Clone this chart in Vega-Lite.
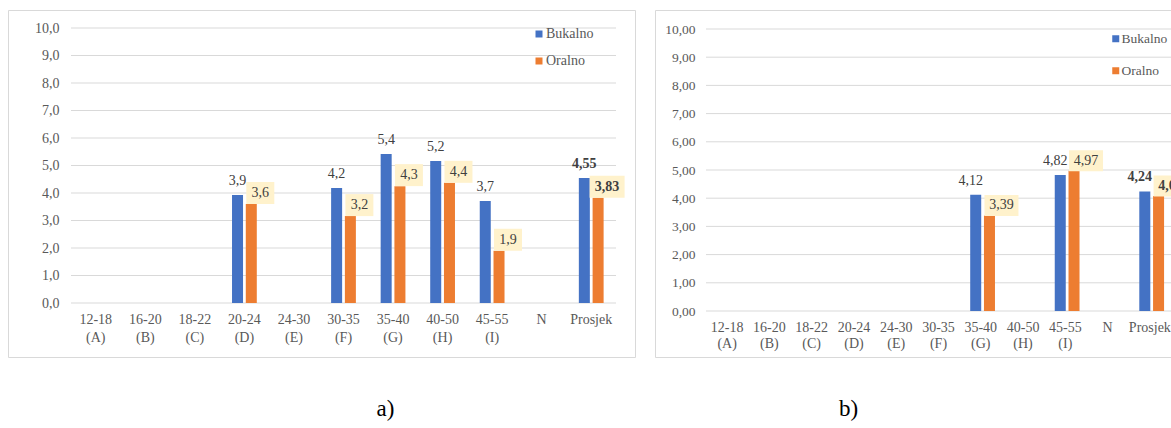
{
  "$schema": "https://vega.github.io/schema/vega-lite/v6.json",
  "background": "white",
  "padding": {"left": 7, "top": 9, "right": 0, "bottom": 0},
  "spacing": 18,
  "config": {
    "view": {"stroke": "#D9D9D9", "strokeWidth": 1},
    "font": "Liberation Serif"
  },
  "datasets": {
    "grid": [{"g": 0}, {"g": 1}, {"g": 2}, {"g": 3}, {"g": 4}, {"g": 5}, {"g": 6}, {"g": 7}, {"g": 8}, {"g": 9}, {"g": 10}],
    "a": [
      {"cat": "20-24 (D)", "series": "Bukalno", "value": 3.93, "label": "3,9"},
      {"cat": "20-24 (D)", "series": "Oralno", "value": 3.6, "label": "3,6"},
      {"cat": "30-35 (F)", "series": "Bukalno", "value": 4.18, "label": "4,2"},
      {"cat": "30-35 (F)", "series": "Oralno", "value": 3.16, "label": "3,2"},
      {"cat": "35-40 (G)", "series": "Bukalno", "value": 5.42, "label": "5,4"},
      {"cat": "35-40 (G)", "series": "Oralno", "value": 4.25, "label": "4,3"},
      {"cat": "40-50 (H)", "series": "Bukalno", "value": 5.16, "label": "5,2"},
      {"cat": "40-50 (H)", "series": "Oralno", "value": 4.37, "label": "4,4"},
      {"cat": "45-55 (I)", "series": "Bukalno", "value": 3.71, "label": "3,7"},
      {"cat": "45-55 (I)", "series": "Oralno", "value": 1.9, "label": "1,9"},
      {"cat": "Prosjek", "series": "Bukalno", "value": 4.55, "label": "4,55"},
      {"cat": "Prosjek", "series": "Oralno", "value": 3.83, "label": "3,83"}
    ],
    "b": [
      {"cat": "35-40 (G)", "series": "Bukalno", "value": 4.12, "label": "4,12"},
      {"cat": "35-40 (G)", "series": "Oralno", "value": 3.39, "label": "3,39"},
      {"cat": "45-55 (I)", "series": "Bukalno", "value": 4.82, "label": "4,82"},
      {"cat": "45-55 (I)", "series": "Oralno", "value": 4.97, "label": "4,97"},
      {"cat": "Prosjek", "series": "Bukalno", "value": 4.24, "label": "4,24"},
      {"cat": "Prosjek", "series": "Oralno", "value": 4.08, "label": "4,08"}
    ]
  },
  "resolve": {"legend": {"color": "independent"}},
  "hconcat": [
    {
      "width": 627,
      "height": 347,
      "title": {"text": "a)", "orient": "bottom", "anchor": "middle", "frame": "group", "dx": 64, "offset": 41, "baseline": "top", "fontSize": 23, "font": "Liberation Serif", "fontWeight": "normal", "color": "#000000"},
      "resolve": {"scale": {"x": "independent"}},
      "layer": [
        {
          "data": {"name": "grid"},
          "mark": {"type": "rule", "color": "#D9D9D9", "strokeWidth": 1},
          "encoding": {
            "x": {"datum": 0, "type": "quantitative", "scale": {"domain": [0, 11], "range": [63, 608], "nice": false, "zero": false}, "axis": null},
            "x2": {"datum": 11},
            "y": {"field": "g", "type": "quantitative",
              "scale": {"domain": [0, 10], "range": [293, 18], "nice": false, "zero": true},
              "axis": {"title": null, "values": [0, 1, 2, 3, 4, 5, 6, 7, 8, 9, 10], "grid": false, "domain": false, "ticks": false, "tickSize": 0, "labelPadding": 0, "offset": -51, "labelFlush": false, "labelOverlap": false,
                "labelExpr": "replace(format(datum.value, '.1f'), '.', ',')", "labelFont": "Liberation Serif", "labelFontSize": 14, "labelColor": "#595959"}}
          }
        },
        {
          "data": {"name": "a"},
          "layer": [
            {
              "mark": {"type": "bar"},
              "encoding": {
                "x": {"field": "cat", "type": "nominal", "sort": null,
                  "scale": {"domain": ["12-18 (A)", "16-20 (B)", "18-22 (C)", "20-24 (D)", "24-30 (E)", "30-35 (F)", "35-40 (G)", "40-50 (H)", "45-55 (I)", "N", "Prosjek"], "range": [63, 608], "paddingInner": 0.5, "paddingOuter": 0.25},
                  "axis": {"title": null, "labelAngle": 0, "domain": false, "ticks": false, "tickSize": 0, "grid": false, "labelPadding": 0, "offset": -45,
                    "labelExpr": "split(datum.label, ' ')", "labelLineHeight": 18, "labelFont": "Liberation Serif", "labelFontSize": 14, "labelColor": "#595959"}},
                "xOffset": {"field": "series", "type": "nominal", "scale": {"domain": ["Bukalno", "Oralno"], "paddingInner": 0.2}},
                "y": {"field": "value", "type": "quantitative", "scale": {"domain": [0, 10], "range": [293, 18], "nice": false, "zero": true},
                  "axis": {"title": null, "values": [0, 1, 2, 3, 4, 5, 6, 7, 8, 9, 10], "grid": false, "domain": false, "ticks": false, "tickSize": 0, "labelPadding": 0, "offset": -51, "labelFlush": false, "labelOverlap": false,
                    "labelExpr": "replace(format(datum.value, '.1f'), '.', ',')", "labelFont": "Liberation Serif", "labelFontSize": 14, "labelColor": "#595959"}},
                "color": {"field": "series", "type": "nominal", "scale": {"domain": ["Bukalno", "Oralno"], "range": ["#4472C4", "#ED7D31"]},
                  "legend": {"orient": "none", "legendX": 524, "legendY": 17, "title": null, "direction": "vertical", "symbolType": "square", "symbolSize": 49, "symbolStrokeWidth": 0, "labelFont": "Liberation Serif", "labelFontSize": 14, "labelColor": "#595959", "rowPadding": 13, "labelOffset": 0, "padding": 0}}
              }
            },
            {
              "transform": [{"filter": "datum.series == 'Oralno'"}],
              "mark": {"type": "point", "filled": true, "color": "#FFF2CC", "opacity": 1, "size": 400,
                "shape": {"expr": "length(datum.label) > 3 ? 'M-0.85,-2.2H2.65V0H-0.85Z' : 'M-0.5,-2.2H2.3V0H-0.5Z'"}},
              "encoding": {
                "x": {"field": "cat", "type": "nominal",
                  "axis": {"title": null, "labelAngle": 0, "domain": false, "ticks": false, "tickSize": 0, "grid": false, "labelPadding": 0, "offset": -45,
                    "labelExpr": "split(datum.label, ' ')", "labelLineHeight": 18, "labelFont": "Liberation Serif", "labelFontSize": 14, "labelColor": "#595959"}},
                "xOffset": {"field": "series", "type": "nominal"},
                "y": {"field": "value", "type": "quantitative",
                  "axis": {"title": null, "values": [0, 1, 2, 3, 4, 5, 6, 7, 8, 9, 10], "grid": false, "domain": false, "ticks": false, "tickSize": 0, "labelPadding": 0, "offset": -51, "labelFlush": false, "labelOverlap": false,
                    "labelExpr": "replace(format(datum.value, '.1f'), '.', ',')", "labelFont": "Liberation Serif", "labelFontSize": 14, "labelColor": "#595959"}}
              }
            },
            {
              "mark": {"type": "text", "font": "Liberation Serif", "fontSize": 14, "color": "#404040", "align": "center", "baseline": "middle",
                "dx": {"expr": "datum.series == 'Oralno' ? 9 : 0"},
                "dy": {"expr": "datum.series == 'Oralno' ? -11 : -14"},
                "fontWeight": {"expr": "datum.cat == 'Prosjek' ? 'bold' : 'normal'"}},
              "encoding": {
                "x": {"field": "cat", "type": "nominal",
                  "axis": {"title": null, "labelAngle": 0, "domain": false, "ticks": false, "tickSize": 0, "grid": false, "labelPadding": 0, "offset": -45,
                    "labelExpr": "split(datum.label, ' ')", "labelLineHeight": 18, "labelFont": "Liberation Serif", "labelFontSize": 14, "labelColor": "#595959"}},
                "xOffset": {"field": "series", "type": "nominal"},
                "y": {"field": "value", "type": "quantitative",
                  "axis": {"title": null, "values": [0, 1, 2, 3, 4, 5, 6, 7, 8, 9, 10], "grid": false, "domain": false, "ticks": false, "tickSize": 0, "labelPadding": 0, "offset": -51, "labelFlush": false, "labelOverlap": false,
                    "labelExpr": "replace(format(datum.value, '.1f'), '.', ',')", "labelFont": "Liberation Serif", "labelFontSize": 14, "labelColor": "#595959"}},
                "text": {"field": "label"}
              }
            }
          ]
        }
      ]
    },
    {
      "width": 519,
      "height": 347,
      "title": {"text": "b)", "orient": "bottom", "anchor": "middle", "frame": "group", "dx": -66, "offset": 41, "baseline": "top", "fontSize": 23, "font": "Liberation Serif", "fontWeight": "normal", "color": "#000000"},
      "resolve": {"scale": {"x": "independent"}},
      "layer": [
        {
          "data": {"name": "grid"},
          "mark": {"type": "rule", "color": "#D9D9D9", "strokeWidth": 1},
          "encoding": {
            "x": {"datum": 0, "type": "quantitative", "scale": {"domain": [0, 11], "range": [51, 516], "nice": false, "zero": false}, "axis": null},
            "x2": {"datum": 11},
            "y": {"field": "g", "type": "quantitative",
              "scale": {"domain": [0, 10], "range": [301, 19], "nice": false, "zero": true},
              "axis": {"title": null, "values": [0, 1, 2, 3, 4, 5, 6, 7, 8, 9, 10], "grid": false, "domain": false, "ticks": false, "tickSize": 0, "labelPadding": 0, "offset": -40, "labelFlush": false, "labelOverlap": false,
                "labelExpr": "replace(format(datum.value, '.2f'), '.', ',')", "labelFont": "Liberation Serif", "labelFontSize": 13.5, "labelColor": "#595959"}}
          }
        },
        {
          "data": {"name": "b"},
          "layer": [
            {
              "mark": {"type": "bar"},
              "encoding": {
                "x": {"field": "cat", "type": "nominal", "sort": null,
                  "scale": {"domain": ["12-18 (A)", "16-20 (B)", "18-22 (C)", "20-24 (D)", "24-30 (E)", "30-35 (F)", "35-40 (G)", "40-50 (H)", "45-55 (I)", "N", "Prosjek"], "range": [51, 516], "paddingInner": 0.5, "paddingOuter": 0.25},
                  "axis": {"title": null, "labelAngle": 0, "domain": false, "ticks": false, "tickSize": 0, "grid": false, "labelPadding": 0, "offset": -37,
                    "labelExpr": "split(datum.label, ' ')", "labelLineHeight": 16, "labelFont": "Liberation Serif", "labelFontSize": 14, "labelColor": "#595959"}},
                "xOffset": {"field": "series", "type": "nominal", "scale": {"domain": ["Bukalno", "Oralno"], "paddingInner": 0.2}},
                "y": {"field": "value", "type": "quantitative", "scale": {"domain": [0, 10], "range": [301, 19], "nice": false, "zero": true},
                  "axis": {"title": null, "values": [0, 1, 2, 3, 4, 5, 6, 7, 8, 9, 10], "grid": false, "domain": false, "ticks": false, "tickSize": 0, "labelPadding": 0, "offset": -40, "labelFlush": false, "labelOverlap": false,
                    "labelExpr": "replace(format(datum.value, '.2f'), '.', ',')", "labelFont": "Liberation Serif", "labelFontSize": 13.5, "labelColor": "#595959"}},
                "color": {"field": "series", "type": "nominal", "scale": {"domain": ["Bukalno", "Oralno"], "range": ["#4472C4", "#ED7D31"]},
                  "legend": {"orient": "none", "legendX": 454, "legendY": 22, "title": null, "direction": "vertical", "symbolType": "square", "symbolSize": 49, "symbolStrokeWidth": 0, "labelFont": "Liberation Serif", "labelFontSize": 13.5, "labelColor": "#595959", "rowPadding": 17, "labelOffset": -1, "padding": 0}}
              }
            },
            {
              "transform": [{"filter": "datum.series == 'Oralno'"}],
              "mark": {"type": "point", "filled": true, "color": "#FFF2CC", "opacity": 1, "size": 400, "clip": true,
                "shape": "M-0.5,-2.05H2.9V0.05H-0.5Z"},
              "encoding": {
                "x": {"field": "cat", "type": "nominal",
                  "axis": {"title": null, "labelAngle": 0, "domain": false, "ticks": false, "tickSize": 0, "grid": false, "labelPadding": 0, "offset": -37,
                    "labelExpr": "split(datum.label, ' ')", "labelLineHeight": 16, "labelFont": "Liberation Serif", "labelFontSize": 14, "labelColor": "#595959"}},
                "xOffset": {"field": "series", "type": "nominal"},
                "y": {"field": "value", "type": "quantitative",
                  "axis": {"title": null, "values": [0, 1, 2, 3, 4, 5, 6, 7, 8, 9, 10], "grid": false, "domain": false, "ticks": false, "tickSize": 0, "labelPadding": 0, "offset": -40, "labelFlush": false, "labelOverlap": false,
                    "labelExpr": "replace(format(datum.value, '.2f'), '.', ',')", "labelFont": "Liberation Serif", "labelFontSize": 13.5, "labelColor": "#595959"}}
              }
            },
            {
              "mark": {"type": "text", "font": "Liberation Serif", "fontSize": 14, "color": "#404040", "align": "center", "baseline": "middle", "clip": true,
                "dx": {"expr": "datum.series == 'Oralno' ? 12 : -5"},
                "dy": {"expr": "datum.series == 'Oralno' ? -10 : -14"},
                "fontWeight": {"expr": "datum.cat == 'Prosjek' ? 'bold' : 'normal'"}},
              "encoding": {
                "x": {"field": "cat", "type": "nominal",
                  "axis": {"title": null, "labelAngle": 0, "domain": false, "ticks": false, "tickSize": 0, "grid": false, "labelPadding": 0, "offset": -37,
                    "labelExpr": "split(datum.label, ' ')", "labelLineHeight": 16, "labelFont": "Liberation Serif", "labelFontSize": 14, "labelColor": "#595959"}},
                "xOffset": {"field": "series", "type": "nominal"},
                "y": {"field": "value", "type": "quantitative",
                  "axis": {"title": null, "values": [0, 1, 2, 3, 4, 5, 6, 7, 8, 9, 10], "grid": false, "domain": false, "ticks": false, "tickSize": 0, "labelPadding": 0, "offset": -40, "labelFlush": false, "labelOverlap": false,
                    "labelExpr": "replace(format(datum.value, '.2f'), '.', ',')", "labelFont": "Liberation Serif", "labelFontSize": 13.5, "labelColor": "#595959"}},
                "text": {"field": "label"}
              }
            }
          ]
        }
      ]
    }
  ]
}
